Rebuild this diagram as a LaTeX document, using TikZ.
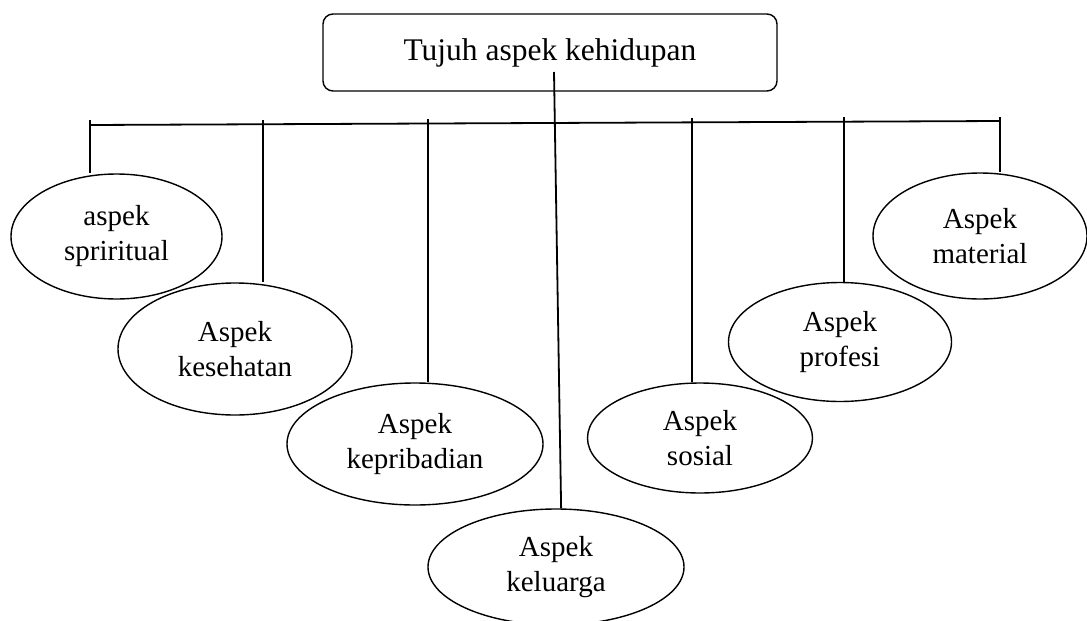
\documentclass[tikz,border=0pt]{standalone}
\usepackage{fontspec}
\setmainfont{Liberation Serif}
\usetikzlibrary{shapes.geometric}
\begin{document}
\begin{tikzpicture}[x=1pt,y=-1pt,
  el/.style={ellipse,draw,line width=1.4pt,inner sep=0pt,align=center,font=\fontsize{29}{35}\selectfont},
  conn/.style={line width=1.8pt},
  titlebox/.style={draw,rounded corners=10pt,line width=1.4pt,minimum width=454pt,minimum height=77pt,inner sep=0pt,font=\fontsize{31.5}{38}\selectfont}]
\useasboundingbox (0,0) rectangle (1087,621);
\clip (0,0) rectangle (1087,621);
\node[titlebox] (title) at (550,52.5) {Tujuh aspek kehidupan};
\node[el,minimum width=211pt,minimum height=125pt] (spi) at (116.5,236.5) {aspek\\spriritual};
\node[el,minimum width=234pt,minimum height=132pt] (kes) at (235,349) {Aspek\\kesehatan};
\node[el,minimum width=256pt,minimum height=122pt] (kep) at (415,444) {Aspek\\kepribadian};
\node[el,minimum width=256pt,minimum height=116pt] (kel) at (556,567) {Aspek\\keluarga};
\node[el,minimum width=225pt,minimum height=110pt] (sos) at (700,438) {Aspek\\sosial};
\node[el,minimum width=223pt,minimum height=119pt] (pro) at (840,342) {Aspek\\profesi};
\node[el,minimum width=214pt,minimum height=126pt] (mat) at (980,236) {Aspek\\material};
\coordinate (hl) at (90,125);
\coordinate (hr) at (1000,121);
\draw[conn] (hl) -- (hr);
\coordinate (t1) at (90,120);
\coordinate (t2) at (263,120);
\coordinate (t3) at (428,119);
\coordinate (t5) at (692,118);
\coordinate (t6) at (844,117);
\coordinate (t7) at (1000,117);
\coordinate (c0) at (554,72);
\draw[conn] (t1) -- (t1 |- spi.north);
\draw[conn] (t2) -- (t2 |- kes.north);
\draw[conn] (t3) -- (t3 |- kep.north);
\draw[conn] (t5) -- (t5 |- sos.north);
\draw[conn] (t6) -- (t6 |- pro.north);
\draw[conn] (t7) -- (t7 |- mat.north);
\draw[conn] (c0) -- (kel.85);
\end{tikzpicture}
\end{document}
